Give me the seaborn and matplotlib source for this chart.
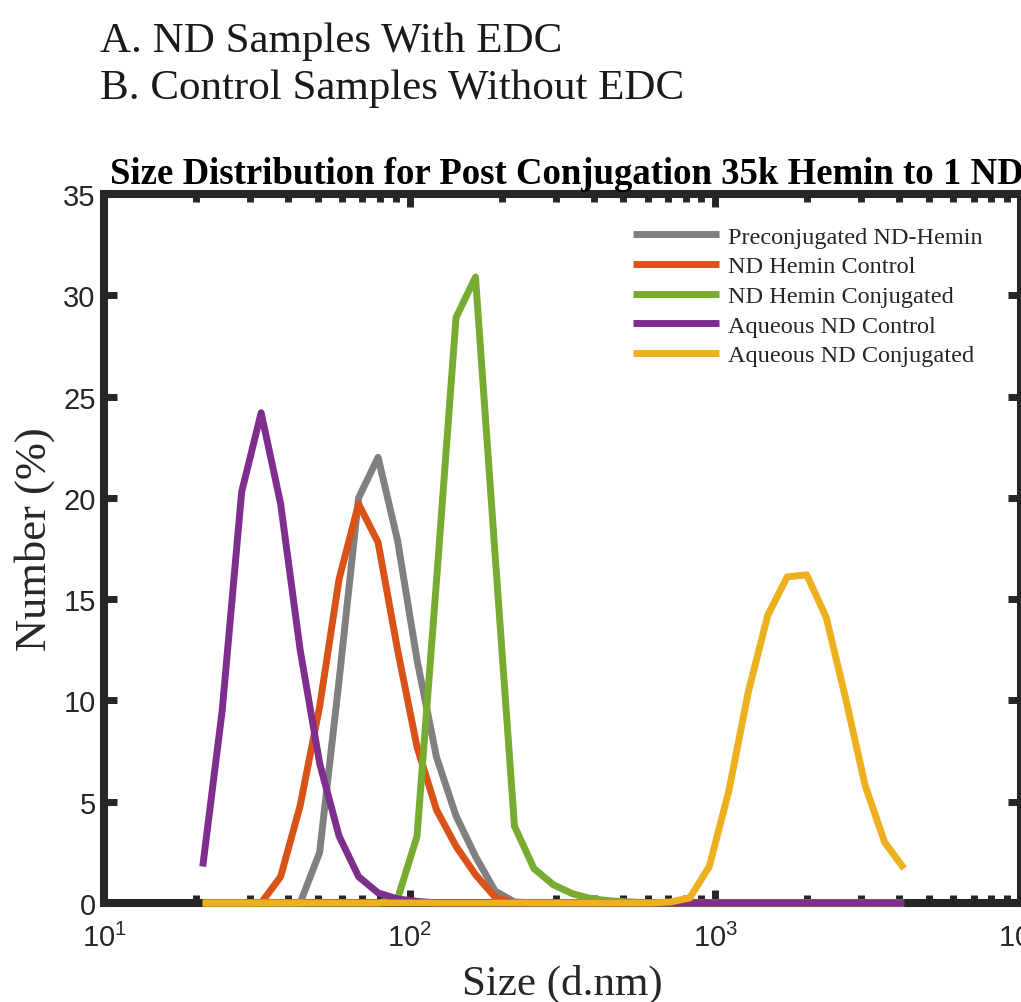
import pandas as pd
import seaborn as sns
import matplotlib.pyplot as plt

# DLS size bins (d.nm) shared by every sample
sizes = [21.04, 24.36, 28.21, 32.67, 37.84, 43.82, 50.75, 58.77, 68.06, 78.82,
         91.28, 105.7, 122.4, 141.8, 164.2, 190.1, 220.2, 255.0, 295.3, 342.0,
         396.1, 458.7, 531.2, 615.1, 712.4, 825.0, 955.4, 1106, 1281, 1484,
         1718, 1990, 2305, 2669, 3091, 3580, 4145]

preconj_hemin = [0, 0, 0, 0, 0, 0, 2.5, 11.0, 20.0, 22.0,
                 17.9, 12.0, 7.2, 4.3, 2.3, 0.6, 0.05, 0, 0, 0,
                 0, 0, 0, 0, 0, 0, 0, 0, 0, 0,
                 0, 0, 0, 0, 0, 0, 0]
hemin_control = [0, 0, 0, 0, 1.3, 4.8, 9.7, 16.0, 19.7, 17.8,
                 12.5, 7.7, 4.6, 2.8, 1.4, 0.3, 0, 0, 0, 0,
                 0, 0, 0, 0, 0, 0, 0, 0, 0, 0,
                 0, 0, 0, 0, 0, 0, 0]
hemin_conj = [0, 0, 0, 0, 0, 0, 0, 0, 0, 0,
              0.2, 3.3, 15.9, 28.9, 30.9, 17.3, 3.8, 1.7, 0.9, 0.45,
              0.2, 0.1, 0.05, 0, 0, 0, 0, 0, 0, 0,
              0, 0, 0, 0, 0, 0, 0]
aqueous_control = [1.8, 9.5, 20.3, 24.2, 19.7, 12.5, 6.9, 3.3, 1.3, 0.5,
                   0.2, 0.08, 0, 0, 0, 0, 0, 0, 0, 0,
                   0, 0, 0, 0, 0, 0, 0, 0, 0, 0,
                   0, 0, 0, 0, 0, 0, 0]
aqueous_conj = [0, 0, 0, 0, 0, 0, 0, 0, 0, 0,
                0, 0, 0, 0, 0, 0, 0, 0, 0, 0,
                0, 0, 0, 0, 0.05, 0.25, 1.8, 5.5, 10.4, 14.2,
                16.1, 16.2, 14.1, 10.1, 5.8, 3.0, 1.7]

samples = ['Preconjugated ND-Hemin', 'ND Hemin Control', 'ND Hemin Conjugated',
           'Aqueous ND Control', 'Aqueous ND Conjugated']
colors = ['#808080', '#D95319', '#77AC30', '#7E2F8E', '#EDB120']
yticks = [0, 5, 10, 15, 20, 25, 30, 35]

series = [preconj_hemin, hemin_control, hemin_conj, aqueous_control, aqueous_conj]
df = pd.DataFrame({
    'Size': sizes * len(samples),
    'Number': [v for s in series for v in s],
    'Sample': [name for name in samples for _ in sizes],
})

sns.set_style('ticks')
plt.rcParams['font.family'] = ['Liberation Sans', 'DejaVu Sans']
plt.rcParams['mathtext.default'] = 'regular'
dark = '#262626'

fig = plt.figure(figsize=(10.21, 10.03), dpi=100)
ax = fig.add_axes([104 / 1021, 99 / 1003, 917 / 1021, 709 / 1003])

sns.lineplot(data=df, x='Size', y='Number', hue='Sample', hue_order=samples,
             palette=dict(zip(samples, colors)), linewidth=5, sort=False,
             estimator=None, ax=ax, clip_on=False, zorder=3,
             solid_capstyle='butt')

ax.set_xscale('log')
ax.set_xlim(10, 1e4)
ax.set_ylim(0, 35)
ax.set_yticks(yticks)

for sp in ax.spines.values():
    sp.set_linewidth(5.8)
    sp.set_color(dark)
ax.tick_params(which='major', direction='in', length=9.5, width=5, color=dark,
               top=True, right=True, labelsize=21, labelcolor=dark)
ax.tick_params(which='minor', direction='in', length=6, width=5, color=dark,
               top=True, right=True)
ax.tick_params(axis='x', pad=14)
ax.tick_params(axis='y', pad=6)

serif = ['Liberation Serif', 'DejaVu Serif']
ax.set_xlabel('Size (d.nm)', fontsize=31, family=serif, color=dark, va='baseline')
ax.xaxis.set_label_coords(0.5, -91 / 709)
ax.set_ylabel('Number (%)', fontsize=32, family=serif, color=dark, va='center')
ax.yaxis.set_label_coords(-69 / 917, 0.515)

ax.set_title('Size Distribution for Post Conjugation 35k Hemin to 1 ND',
             loc='left', x=6 / 917, pad=8, fontsize=26.5, fontweight='bold',
             family=serif, color='black')

handles, labels = ax.get_legend_handles_labels()
leg = ax.legend(handles, labels, loc='upper left', bbox_to_anchor=(0.577, 0.955),
                frameon=False, borderpad=0, borderaxespad=0, handlelength=3.55,
                handletextpad=0.34, labelspacing=0.31,
                prop={'family': serif, 'size': 17.5})
for line in leg.get_lines():
    line.set_linewidth(5)

fig.text(100 / 1021, 1 - 52 / 1003, 'A. ND Samples With EDC', fontsize=31,
         family=serif, color='#1a1a1a', va='baseline')
fig.text(100 / 1021, 1 - 99 / 1003, 'B. Control Samples Without EDC', fontsize=31,
         family=serif, color='#1a1a1a', va='baseline')

fig.savefig('out.png', dpi=100)
